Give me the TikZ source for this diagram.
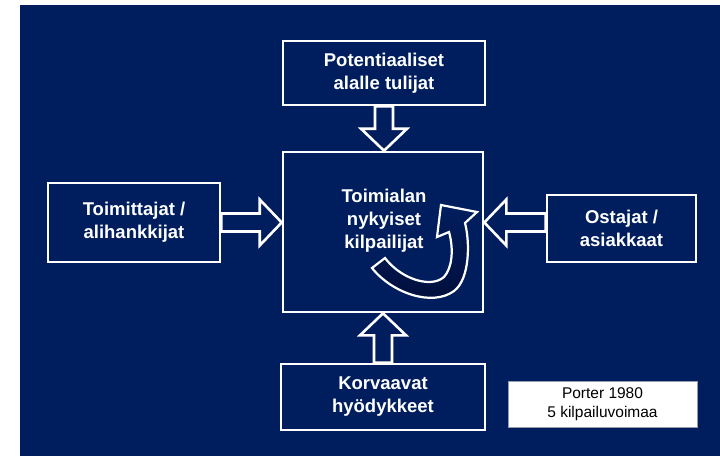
\documentclass[tikz,border=0pt]{standalone}
\usepackage{fontspec}
\setmainfont{Liberation Sans}
\usetikzlibrary{calc,backgrounds}
\definecolor{porterNavy}{RGB}{0,30,94}
\definecolor{porterNavyDark}{RGB}{0,14,58}
\definecolor{porterNote}{RGB}{150,155,170}
\tikzset{
  forcebox/.style={rectangle, draw=white, fill=porterNavy, line width=2.6pt, align=center,
    text=white, font=\fontsize{18.5}{23}\selectfont\bfseries, inner sep=0pt},
  forcelabel/.style={align=center, text=white, font=\fontsize{18.5}{23}\selectfont\bfseries,
    inner sep=0pt},
  notebox/.style={rectangle, draw=porterNote, fill=white, line width=0.6pt, align=center,
    text=black, font=\fontsize{15.5}{19}\selectfont, minimum width=189pt, minimum height=46pt},
  forcearrow/.style={draw=white, fill=porterNavy, line width=2.6pt, line join=miter},
  cyclearrow/.style={draw=white, line width=2.2pt, line join=miter,
    top color=porterNavy, bottom color=porterNavyDark},
}
% hollow block arrow from #1 (tail) to #2 (tip)
\newcommand{\forcearrow}[2]{%
  \coordinate (fa-head) at ($(#2)!22pt!(#1)$);
  \draw[forcearrow] ($(#1)!9pt!90:(#2)$) -- ($(fa-head)!9pt!90:(#2)$)
    -- ($(fa-head)!23pt!90:(#2)$) -- (#2) -- ($(fa-head)!23pt!-90:(#2)$)
    -- ($(fa-head)!9pt!-90:(#2)$) -- ($(#1)!9pt!-90:(#2)$) -- cycle;}

\begin{document}
\begin{tikzpicture}[x=1pt,y=-1pt]
  \useasboundingbox (0,0) rectangle (720,456);
  \begin{scope}[on background layer]
    \fill[white] (0,0) rectangle (720,456);
    \fill[porterNavy] (20,5) rectangle (720,456);
  \end{scope}

  % --- Five forces ---
  \node[forcebox, minimum width=202pt, minimum height=64pt] (entrants) at (384,73)
    {Potentiaaliset\\alalle tulijat};
  \node[forcebox, minimum width=200pt, minimum height=160pt] (rivals) at (383,232) {};
  \node[forcelabel] (rivalslabel) at (384,221) {Toimialan\\nykyiset\\kilpailijat};
  \node[forcebox, minimum width=172pt, minimum height=79pt] (suppliers) at (134,222.5)
    {Toimittajat /\\alihankkijat};
  \node[forcebox, minimum width=149pt, minimum height=67pt] (buyers) at (621.5,228.5)
    {Ostajat /\\asiakkaat};
  \node[forcebox, minimum width=204pt, minimum height=66pt] (substitutes) at (383,397)
    {Korvaavat\\hyödykkeet};

  % --- Source note ---
  \node[notebox] (note) at (602.5,404) {Porter 1980\\5 kilpailuvoimaa};

  % --- Pressure arrows into the industry ---
  \begin{scope}[on background layer]
    \forcearrow{suppliers.east}{rivals.west |- suppliers.east}
    \forcearrow{buyers.west |- suppliers.east}{rivals.east |- suppliers.east}
    \forcearrow{entrants.south}{rivals.north -| entrants.south}
    \forcearrow{substitutes.north}{rivals.south -| substitutes.north}
  \end{scope}

  % --- Rivalry cycle ---
  \draw[cyclearrow] (372,268) .. controls (392,293) and (432,307) .. (454,291)
    .. controls (470,279) and (470,242) .. (465,223) -- (477,212) -- (441,205)
    -- (437,237) -- (449,232) .. controls (454,250) and (452,268) .. (444,277)
    .. controls (430,289) and (400,278) .. (385,258) -- cycle;
\end{tikzpicture}
\end{document}
